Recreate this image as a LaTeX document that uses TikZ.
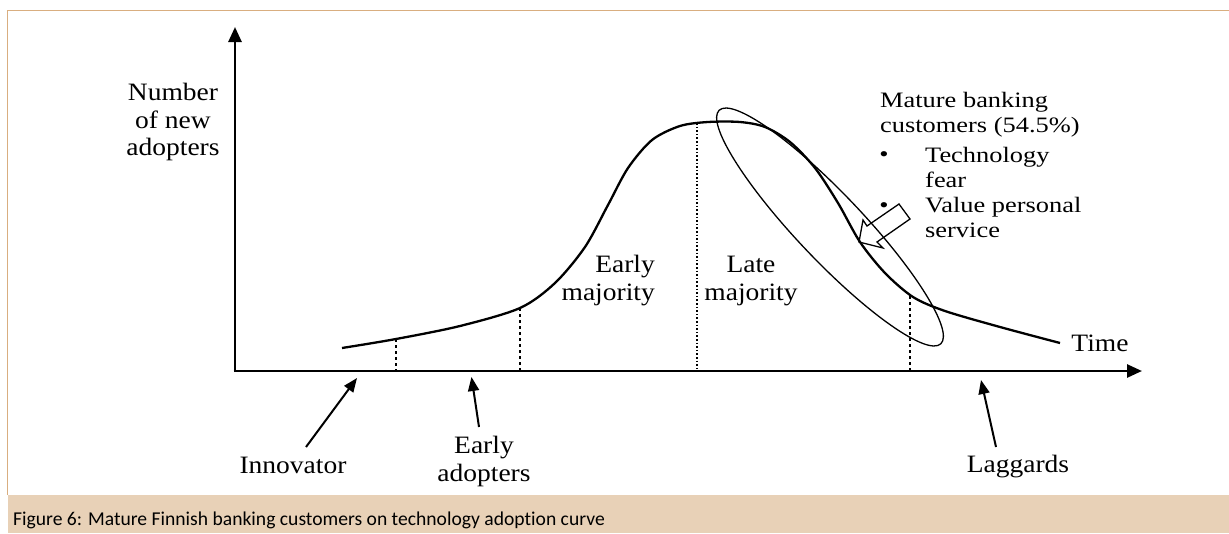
\documentclass[tikz,border=0pt]{standalone}
\usepackage{fontspec}
\setmainfont{Liberation Serif}[FakeStretch=1.1]
\newfontfamily\callfont{Liberation Serif}[FakeStretch=1.2]
\newfontfamily\capfont{Carlito}[Ligatures=NoCommon]
\usetikzlibrary{arrows.meta}
\definecolor{bandc}{HTML}{E8D1B7}
\definecolor{framec}{HTML}{D9AE80}
\begin{document}
\begin{tikzpicture}[x=1pt,y=-1pt,
  lab/.style={font=\fontsize{25}{27.5}\selectfont, inner sep=0pt},
  call/.style={font=\callfont\fontsize{22}{25.5}\selectfont, inner sep=0pt, align=left, anchor=north west},
  axisline/.style={line width=2.6pt, -{Triangle[length=15pt,width=13pt]}},
  larrow/.style={line width=2pt, -{Triangle[length=14pt,width=11pt]}},
  divdash/.style={line width=2pt, dash pattern=on 3pt off 3pt},
  divdot/.style={line width=2pt, dash pattern=on 1.6pt off 2pt},
  curveline/.style={line width=2.3pt, line join=round},
]
\useasboundingbox (0,0) rectangle (1229,533);
% frame and caption band
\fill[bandc] (7.5,495) rectangle (1229,533);
\draw[framec, line width=1.5pt] (7.5,495) -- (7.5,10.5) -- (1229,10.5);
\node[anchor=base west, inner sep=0pt, font=\capfont\fontsize{19.6}{22}\selectfont] (cap) at (13,525) {Figure 6: Mature Finnish banking customers on technology adoption curve};

% axes
\coordinate (O) at (235,372);
\coordinate (ytip) at (235,27);
\coordinate (xtip) at (1142,371);
\draw[axisline] (233.7,371) -- (xtip);
\draw[axisline] (O) -- (ytip);

% adoption curve
\draw[curveline] plot[smooth, tension=0.5] coordinates {
 (342,348) (396,339) (460,326) (520,308) (555,283) (585,247) (608,205)
 (628,168) (652,140) (680,126) (708,122) (740,122) (765,127) (790,142)
 (815,168) (838,203) (860,242) (885,273) (913,297) (945,311) (1000,327) (1060,343)};

% divisions
\coordinate (d1) at (396,339);
\coordinate (d2) at (520,308);
\coordinate (d3) at (697,123);
\coordinate (d4) at (910,296);
\draw[divdash] (d1) -- (396,371);
\draw[divdash] (d2) -- (520,371);
\draw[divdot] (d3) -- (697,371);
\draw[divdash] (d4) -- (910,371);

% ellipse
\draw[line width=1.3pt, rotate around={-46.5:(830,227)}] (830,227) ellipse [x radius=161pt, y radius=33pt];

% hollow arrow
\draw[line width=1.3pt, line join=miter] (859,242) -- (863,220) -- (867,226) -- (899,204) -- (910,219) -- (877,242) -- (883,248) -- cycle;

% texts
\node[lab, align=center, anchor=north] (ylab) at (173,83) {Number\\of new\\adopters};
\node[lab, align=right, anchor=north east] (early) at (655,255) {Early\\majority};
\node[lab, align=center, anchor=north] (late) at (751,256) {Late\\majority};
\node[lab, anchor=base] (time) at (1100,351) {Time};
\node[lab, anchor=base] (innov) at (293,473) {Innovator};
\node[lab, align=center, anchor=north] (eadopt) at (484,436) {Early\\adopters};
\node[lab, anchor=base] (lagg) at (1018,472) {Laggards};

\node[call] (mature) at (880,92) {Mature banking\\customers (54.5\%)};
\node[call, anchor=base] (bul1) at (884,161) {•};
\node[call] (tech) at (925,147) {Technology\\fear};
\node[call, anchor=base] (bul2) at (884,212) {•};
\node[call] (value) at (925,197) {Value personal\\service};

% label arrows
\coordinate (innovT) at (306,447);
\coordinate (innovH) at (357,378);
\coordinate (eaT) at (479,427);
\coordinate (eaH) at (471.5,377);
\coordinate (lagT) at (996,447);
\coordinate (lagH) at (981,380);
\draw[larrow] (innovT) -- (innovH);
\draw[larrow] (eaT) -- (eaH);
\draw[larrow] (lagT) -- (lagH);
\end{tikzpicture}
\end{document}
